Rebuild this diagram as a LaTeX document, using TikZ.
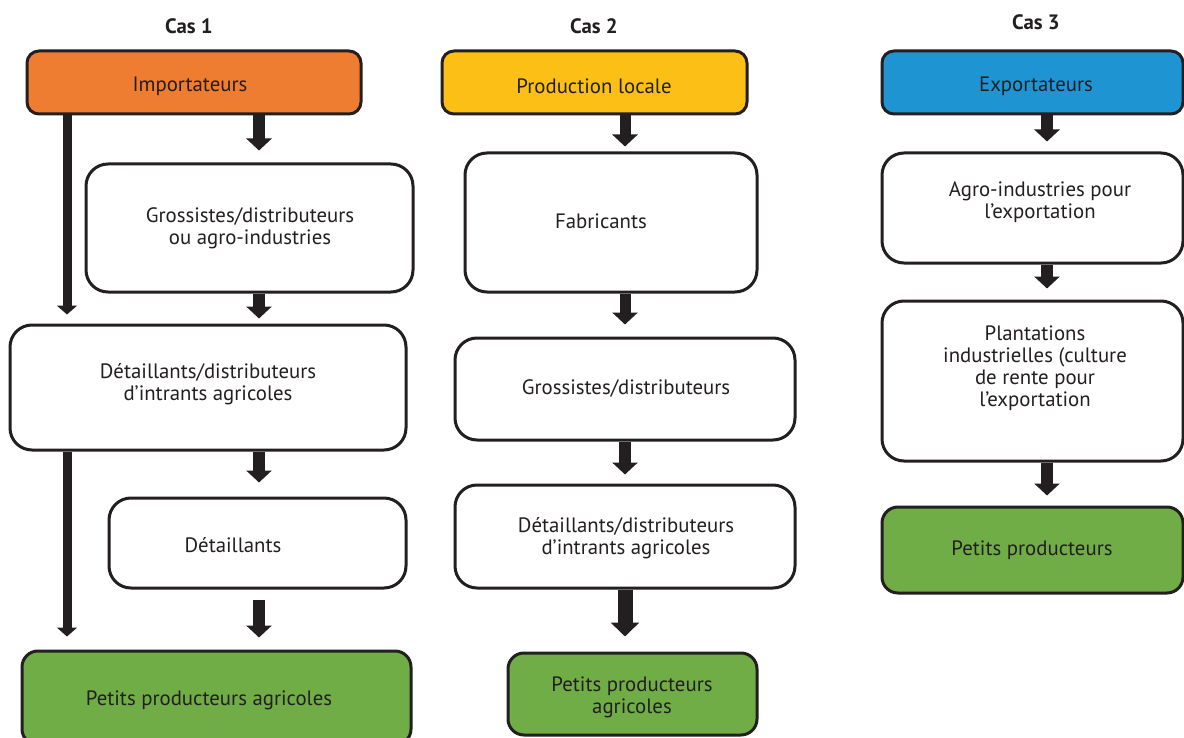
\documentclass[tikz,border=0pt]{standalone}
\usepackage{fontspec}
\setmainfont{PT Sans}
\usepackage{tikz}
\usetikzlibrary{arrows.meta}
\definecolor{ink}{HTML}{231F20}
\definecolor{orangebox}{HTML}{EE7D31}
\definecolor{yellowbox}{HTML}{FBBF15}
\definecolor{bluebox}{HTML}{1F94D3}
\definecolor{greenbox}{HTML}{70AD47}

\begin{document}
\begin{tikzpicture}[x=0.5pt, y=-0.5pt]
            \tikzset{box/.style={draw=ink, line width=1.5pt, rounded corners=11pt, fill=white, inner sep=0pt},
                     head/.style={box, rounded corners=6pt},
                     txt/.style={text=ink, align=center, font=\fontsize{10.4}{11}\selectfont},
                     title/.style={text=ink, font=\fontsize{10.4}{11}\selectfont\bfseries},
                     arr/.style={ink, line width=6pt, -{Triangle[width=12.5pt, length=6pt]}},
                     thinarr/.style={ink, line width=4.5pt, -{Triangle[width=10pt, length=4.5pt]}},
                     fatarr/.style={ink, line width=7.5pt, -{Triangle[width=14pt, length=7pt]}}}
            \useasboundingbox (0,0) rectangle (1184,738);
            % titles
            \node[title] (cas1) at (189,26) {Cas 1};
            \node[title] (cas2) at (594,26) {Cas 2};
            \node[title] (cas3) at (1036,22) {Cas 3};
            % boxes, case 1
            \node[head, fill=orangebox, minimum width=167pt, minimum height=31.5pt] (imp) at (194,82.5) {};
            \node[box, minimum width=163.5pt, minimum height=64pt] (gro1) at (249.5,228) {};
            \node[box, minimum width=198pt, minimum height=62.5pt] (dd1) at (208,387.5) {};
            \node[box, minimum width=148.5pt, minimum height=45pt] (det1) at (257.5,543) {};
            \node[box, fill=greenbox, rounded corners=8pt, minimum width=194.5pt, minimum height=47pt] (pp1) at (216.5,698) {};
            % boxes, case 2
            \node[head, fill=yellowbox, minimum width=152.5pt, minimum height=31.5pt] (prod) at (594.5,82.5) {};
            \node[box, minimum width=146pt, minimum height=69.5pt] (fab) at (611,222.5) {};
            \node[box, minimum width=170pt, minimum height=51pt] (gro2) at (625,389) {};
            \node[box, minimum width=170pt, minimum height=51.5pt] (dd2) at (625,536.5) {};
            \node[box, fill=greenbox, rounded corners=8pt, minimum width=124.5pt, minimum height=41pt] (pp2) at (632.5,694) {};
            % boxes, case 3
            \node[head, fill=bluebox, minimum width=150.5pt, minimum height=31.5pt] (exp) at (1032.5,82.5) {};
            \node[box, minimum width=150.5pt, minimum height=55pt] (agro) at (1032.5,208) {};
            \node[box, minimum width=150.5pt, minimum height=80pt] (plant) at (1032.5,381) {};
            \node[box, fill=greenbox, rounded corners=8pt, minimum width=150.5pt, minimum height=43pt] (pp3) at (1032.5,550) {};
            % texts
            \node[txt] (imp-t) at (190,86) {Importateurs};
            \node[txt] (gro1-t) at (250,228) {Grossistes/distributeurs\\ou agro-industries};
            \node[txt] (dd1-t) at (208,384) {Détaillants/distributeurs\\d’intrants agricoles};
            \node[txt] (det1-t) at (233,545) {Détaillants};
            \node[txt] (pp1-t) at (209,700) {Petits producteurs agricoles};
            \node[txt] (prod-t) at (594,86) {Production locale};
            \node[txt] (fab-t) at (601,221) {Fabricants};
            \node[txt] (gro2-t) at (626,389) {Grossistes/distributeurs};
            \node[txt] (dd2-t) at (626,538) {Détaillants/distributeurs\\d’intrants agricoles};
            \node[txt] (pp2-t) at (632,697) {Petits producteurs\\agricoles};
            \node[txt] (exp-t) at (1036,86) {Exportateurs};
            \node[txt] (agro-t) at (1040,202) {Agro-industries pour\\l’exportation};
            \node[txt] (plant-t) at (1035,368) {Plantations\\industrielles (culture\\de rente pour\\l’exportation};
            \node[txt] (pp3-t) at (1032,550) {Petits producteurs};
            % arrow lanes
            \coordinate (side1) at (67,0);
            \coordinate (lane1) at (259,0);
            \coordinate (lane2) at (625,0);
            \coordinate (lane3) at (1047,0);
            % arrows, case 1
            \draw[arr, shorten >=6pt] (imp.south -| lane1) -- (gro1.north -| lane1);
            \draw[arr, shorten >=2.5pt] (gro1.south -| lane1) -- (dd1.north -| lane1);
            \draw[arr, shorten >=7pt] (dd1.south -| lane1) -- (det1.north -| lane1);
            \draw[arr, shorten <=5pt, shorten >=6pt] (det1.south -| lane1) -- (pp1.north -| lane1);
            \draw[thinarr, shorten >=4.5pt] (imp.south -| side1) -- (dd1.north -| side1);
            \draw[thinarr, shorten >=6.5pt] (dd1.south -| side1) -- (pp1.north -| side1);
            % arrows, case 2
            \draw[arr, line width=5.5pt, shorten >=2.5pt] (prod.south -| lane2) -- (fab.north -| lane2);
            \draw[arr, line width=5.5pt, shorten >=6pt] (fab.south -| lane2) -- (gro2.north -| lane2);
            \draw[arr, shorten >=4.5pt] (gro2.south -| lane2) -- (dd2.north -| lane2);
            \draw[fatarr, shorten >=7.5pt] (dd2.south -| lane2) -- (pp2.north -| lane2);
            % arrows, case 3
            \draw[arr, shorten >=5pt] (exp.south -| lane3) -- (agro.north -| lane3);
            \draw[arr, shorten >=5.5pt] (agro.south -| lane3) -- (plant.north -| lane3);
            \draw[arr, shorten >=5pt] (plant.south -| lane3) -- (pp3.north -| lane3);
        \end{tikzpicture}
\end{document}
